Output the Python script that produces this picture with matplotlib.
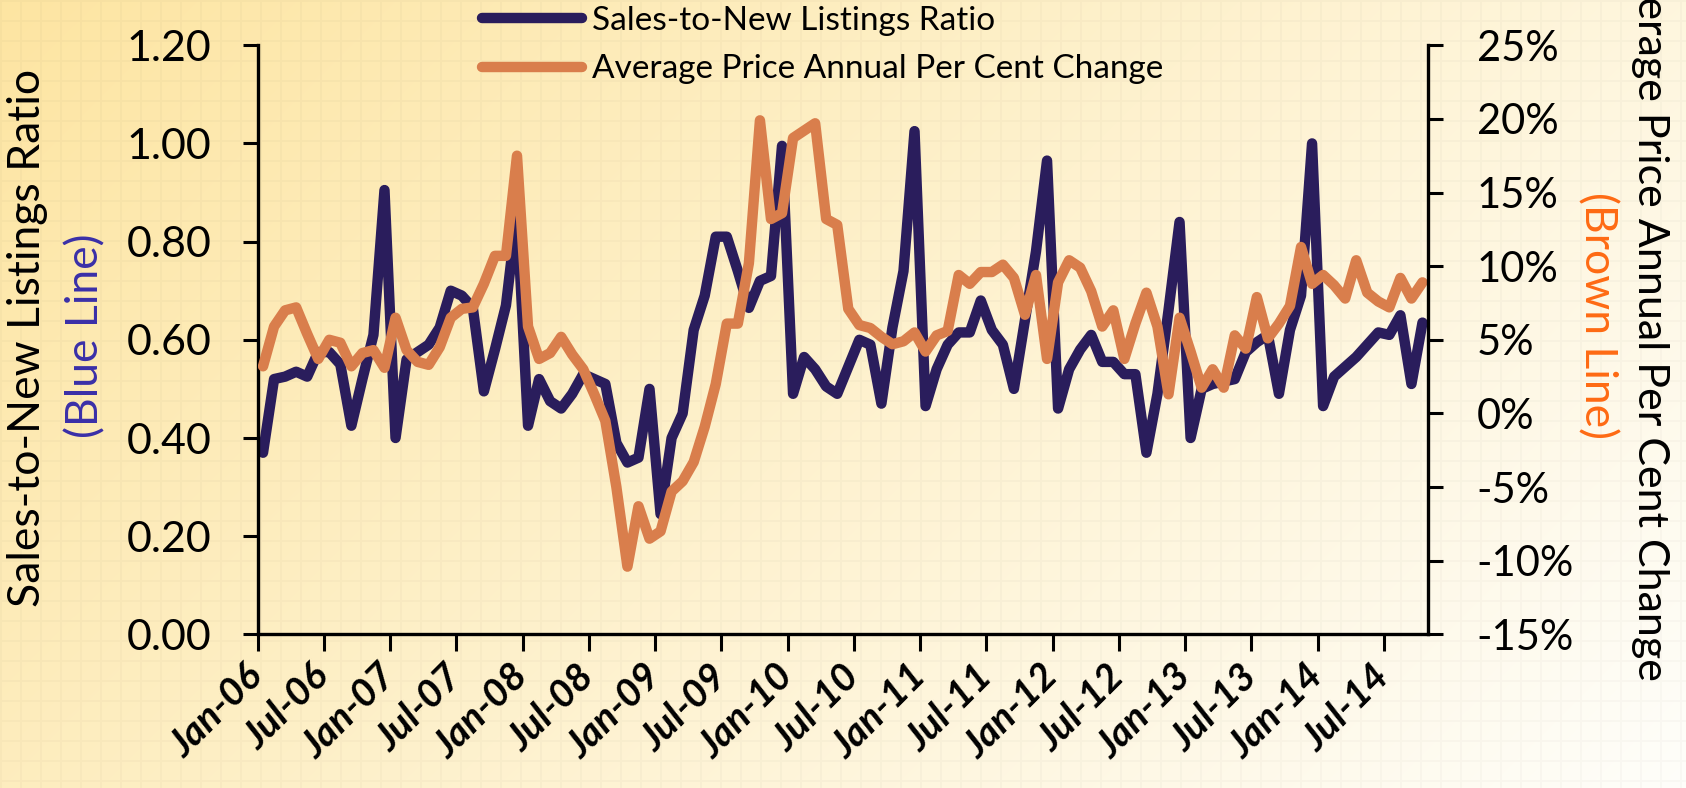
import matplotlib
matplotlib.use("Agg")
import matplotlib.pyplot as plt
import matplotlib.transforms as mtransforms
import numpy as np

plt.rcParams["font.family"] = ["Lato", "DejaVu Sans"]

# Dados mensais, Jan-06 .. Oct-14
ratio = [
    0.37, 0.52, 0.525, 0.535, 0.525, 0.575, 0.575, 0.55, 0.425, 0.52, 0.61, 0.905,
    0.40, 0.56, 0.575, 0.59, 0.625, 0.70, 0.69, 0.665, 0.495, 0.58, 0.67, 0.86,
    0.425, 0.52, 0.475, 0.46, 0.49, 0.53, 0.52, 0.51, 0.39, 0.35, 0.36, 0.50,
    0.245, 0.40, 0.45, 0.62, 0.69, 0.81, 0.81, 0.74, 0.665, 0.72, 0.73, 0.995,
    0.49, 0.565, 0.54, 0.505, 0.49, 0.545, 0.60, 0.59, 0.47, 0.625, 0.74, 1.025,
    0.465, 0.54, 0.59, 0.615, 0.615, 0.68, 0.62, 0.59, 0.50, 0.64, 0.78, 0.965,
    0.46, 0.54, 0.58, 0.61, 0.555, 0.555, 0.53, 0.53, 0.37, 0.49, 0.66, 0.84,
    0.40, 0.50, 0.51, 0.515, 0.52, 0.575, 0.595, 0.61, 0.49, 0.62, 0.69, 1.00,
    0.465, 0.525, 0.545, 0.565, 0.59, 0.615, 0.61, 0.65, 0.51, 0.635,
]
price_change = [
    3.2, 5.9, 7.0, 7.2, 5.4, 3.7, 5.0, 4.8, 3.2, 4.1, 4.3, 3.1,
    6.5, 4.3, 3.5, 3.3, 4.5, 6.5, 7.1, 7.2, 8.8, 10.7, 10.7, 17.5,
    5.9, 3.7, 4.1, 5.2, 4.0, 3.0, 1.3, -0.5, -5.0, -10.4, -6.3, -8.5,
    -8.0, -5.3, -4.6, -3.3, -0.9, 2.0, 6.1, 6.1, 10.2, 19.9, 13.2, 13.6,
    18.7, 19.2, 19.7, 13.2, 12.8, 7.1, 6.0, 5.8, 5.2, 4.7, 4.9, 5.5,
    4.2, 5.3, 5.6, 9.4, 8.8, 9.6, 9.6, 10.1, 9.2, 6.7, 9.4, 3.7,
    8.9, 10.4, 9.9, 8.3, 5.9, 7.0, 3.7, 6.1, 8.2, 5.9, 1.3, 6.5,
    4.2, 1.75, 3.0, 1.75, 5.3, 4.4, 7.9, 5.1, 6.1, 7.3, 11.3, 8.8,
    9.4, 8.7, 7.8, 10.4, 8.2, 7.6, 7.2, 9.2, 7.8, 8.9,
]
tick_labels = [
    "Jan-06", "Jul-06", "Jan-07", "Jul-07", "Jan-08", "Jul-08", "Jan-09", "Jul-09", "Jan-10",
    "Jul-10", "Jan-11", "Jul-11", "Jan-12", "Jul-12", "Jan-13", "Jul-13", "Jan-14", "Jul-14",
]

BLUE = "#2a1d5c"
ORANGE = "#d97e4c"

W, H = 1686, 788
fig = plt.figure(figsize=(W / 100, H / 100), dpi=100)

# Fundo: degradê amarelo -> branco com quadriculado suave
bg = fig.add_axes([0, 0, 1, 1], zorder=-10)
yy, xx = np.mgrid[0:H, 0:W]
t = np.clip(0.68 * xx / W + 0.32 * yy / H, 0, 1)[..., None]
c0 = np.array([253, 229, 162]) / 255
c1 = np.array([255, 254, 250]) / 255
img = c0 * (1 - t) + c1 * t
grid = ((xx % 20) < 2) | ((yy % 20) < 2)
img[grid] *= 0.978
bg.imshow(img, aspect="auto", interpolation="bilinear")
bg.axis("off")

ax = fig.add_axes([257.5 / W, 153.6 / H, (1428 - 257.5) / W, (742.8 - 153.6) / H])
ax.patch.set_alpha(0)
ax2 = ax.twinx()

x = np.arange(len(ratio))
l1, = ax.plot(x, ratio, color=BLUE, lw=7.5, solid_joinstyle="round", solid_capstyle="round",
              label="Sales-to-New Listings Ratio")
l2, = ax2.plot(x, price_change, color=ORANGE, lw=7.5, solid_joinstyle="round", solid_capstyle="round",
               label="Average Price Annual Per Cent Change")

ax.set_xlim(-0.5, len(ratio) - 0.5)
ax.set_ylim(0, 1.2)
ax2.set_ylim(-15, 25)
ax.set_yticks(np.arange(0, 1.21, 0.2))
ax.set_yticklabels([f"{v:.2f}" for v in np.arange(0, 1.21, 0.2)], fontsize=31)
ax2.set_yticks(np.arange(-15, 26, 5))
ax2.set_yticklabels([f"{v}%" for v in range(-15, 26, 5)], fontsize=30)

ticks = -0.5 + 6 * np.arange(len(tick_labels))
ax.set_xticks(ticks)
ax.set_xticklabels(tick_labels, rotation=45, ha="right", va="center", rotation_mode="anchor",
                   fontsize=28, fontweight="bold", fontstyle="italic")
offset = mtransforms.ScaledTranslation(0.2, 0, fig.dpi_scale_trans)
for lbl in ax.get_xticklabels():
    lbl.set_transform(lbl.get_transform() + offset)

for a in (ax, ax2):
    a.spines["top"].set_visible(False)
    for s in a.spines.values():
        s.set_linewidth(2.4)
ax.spines["right"].set_visible(False)
ax2.spines["left"].set_visible(False)
ax2.spines["bottom"].set_visible(False)

ax.tick_params(axis="y", length=11, width=2.2, pad=22)
ax.tick_params(axis="x", length=12, width=2.2, pad=14)
ax2.tick_params(axis="y", length=11, width=2.2, pad=24)

# Títulos dos eixos
fig.text(28 / W, 1 - 338 / H, "Sales-to-New Listings Ratio", rotation=90, fontsize=32,
         ha="center", va="center")
fig.text(86 / W, 1 - 336 / H, "(Blue Line)", rotation=90, fontsize=32, color="#3a2fa8",
         ha="center", va="center")
fig.text(1650 / W, 1 - 313 / H, "Average Price Annual Per Cent Change", rotation=-90, fontsize=31,
         ha="center", va="center")
fig.text(1597 / W, 1 - 315 / H, "(Brown Line)", rotation=-90, fontsize=32, color="#ff6a13",
         ha="center", va="center")

fig.legend([l1, l2], [l1.get_label(), l2.get_label()], loc="upper left",
           bbox_to_anchor=(482 / W, 1 - 6 / H), frameon=False, fontsize=24,
           handlelength=3.0, handletextpad=0.3, labelspacing=0.55, borderpad=0, borderaxespad=0)

fig.savefig("out.png", dpi=100)
